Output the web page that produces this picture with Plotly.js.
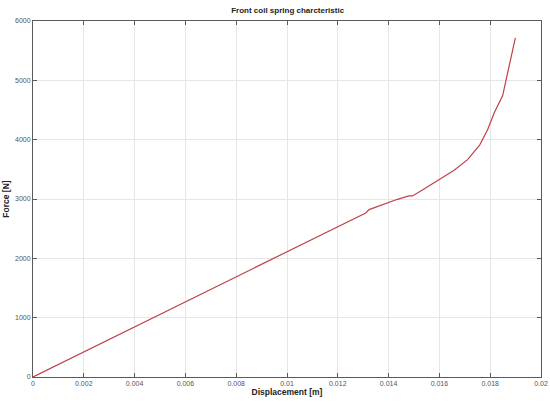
<!DOCTYPE html>
<html>
<head>
<meta charset="utf-8">
<script src="https://cdn.plot.ly/plotly-3.0.1.min.js"></script>
<style>
  html, body { margin: 0; padding: 0; background: #fff; }
  #chart { width: 550px; height: 404px; }
</style>
</head>
<body>
<div id="chart"></div>
<script>
// Spring characteristic
const displacement = [0, 0.005, 0.0095, 0.0131, 0.01323, 0.01369, 0.01435, 0.0148, 0.01494,
  0.01533, 0.01606, 0.01658, 0.01711, 0.01759, 0.0179, 0.01816, 0.01849, 0.01899];
const force = [0, 1054, 2005, 2765, 2821, 2894, 2995, 3052, 3052,
  3153, 3344, 3484, 3664, 3912, 4170, 4452, 4744, 5717];

const xTicks = [0, 0.002, 0.004, 0.006, 0.008, 0.01, 0.012, 0.014, 0.016, 0.018, 0.02];
const xTickText = ['0', '0.002', '0.004', '0.006', '0.008', '0.01', '0.012', '0.014', '0.016', '0.018', '0.02'];
const yTicks = [0, 1000, 2000, 3000, 4000, 5000, 6000];

const axisCommon = {
  showgrid: true,
  gridcolor: '#e6e6e6',
  gridwidth: 1,
  zeroline: false,
  showline: true,
  linecolor: '#5a5a5a',
  linewidth: 1,
  mirror: 'ticks',
  ticks: 'inside',
  ticklen: 4,
  tickcolor: '#5a5a5a',
  tickfont: { family: 'Arial, Liberation Sans, sans-serif', size: 7, color: '#555' }
};

const data = [{
  type: 'scatter',
  mode: 'lines',
  x: displacement,
  y: force,
  line: { color: '#c0404a', width: 1.2 },
  hoverinfo: 'skip'
}];

const layout = {
  width: 550,
  height: 404,
  margin: { l: 33, r: 9, t: 21, b: 27 },
  paper_bgcolor: '#ffffff',
  plot_bgcolor: '#ffffff',
  showlegend: false,
  title: {
    text: '<b>Front coil spring charcteristic</b>',
    font: { family: 'Arial, Liberation Sans, sans-serif', size: 8, color: '#222' },
    x: 0.523, xanchor: 'center', y: 0.975, yanchor: 'middle'
  },
  xaxis: Object.assign({}, axisCommon, {
    range: [0, 0.02],
    tickvals: xTicks,
    ticktext: xTickText,
    title: {
      text: '<b>Displacement [m]</b>',
      font: { family: 'Arial, Liberation Sans, sans-serif', size: 8.5, color: '#222' },
      standoff: 2
    }
  }),
  yaxis: Object.assign({}, axisCommon, {
    range: [0, 6000],
    tickvals: yTicks,
    title: {
      text: '<b>Force [N]</b>',
      font: { family: 'Arial, Liberation Sans, sans-serif', size: 8.5, color: '#222' },
      standoff: 4
    }
  })
};

Plotly.newPlot('chart', data, layout, { displayModeBar: false, staticPlot: true });
</script>
</body>
</html>
